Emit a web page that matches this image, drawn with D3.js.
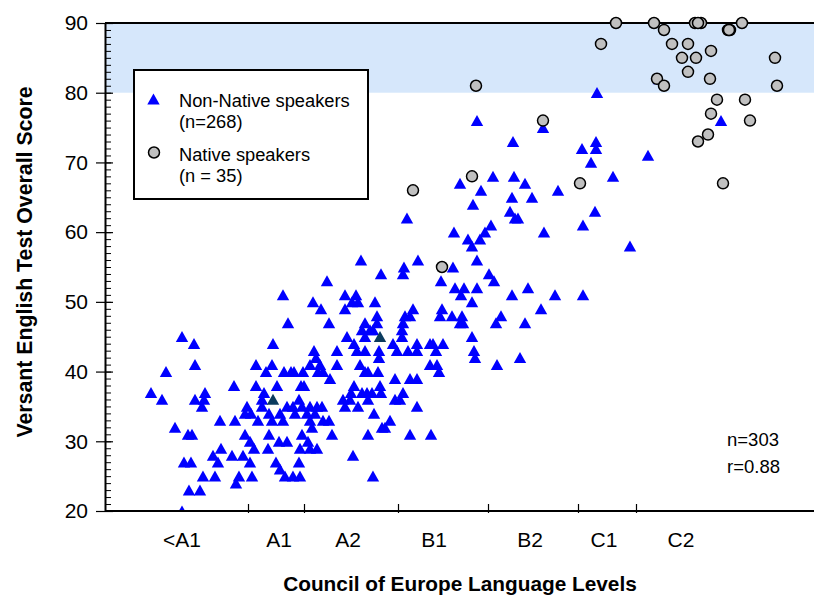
<!DOCTYPE html>
<html><head><meta charset="utf-8">
<script src="https://cdn.jsdelivr.net/npm/d3@7"></script>
<style>body{margin:0;background:#fff}svg{display:block;font-family:Arial,"Liberation Sans",sans-serif}</style>
</head><body><svg id="c" width="814" height="596"></svg>
<script>
// ---- data ----
const levelLabels = ["<A1","A1","A2","B1","B2","C1","C2"];
const levelLabelPos = [7.7,17.4,24.3,32.9,42.5,49.9,57.6];
const levelBoundaries = [14.3,19.9,29.3,38.3,47.3,53.1];
const yTicks = [20,30,40,50,60,70,80,90];
const targetBand = [80,90];

// non-native speakers: [level position, score]
const nonNativeLow = [[7.7,45],[8.9,44],[9.0,41],[6.1,40],[4.6,37],[5.7,36],[10.0,37],[9.0,36],[9.9,36],[9.7,35],[12.9,38],[15.1,41],[16.1,40],[15.1,38],[15.9,37],[15.7,36],[15.7,35],[14.2,35],[14.0,34],[14.6,34],[15.3,33],[11.5,33],[13.0,33],[7.0,32],[8.3,31],[8.7,31],[14.0,31],[14.5,30],[14.9,29],[11.6,29],[10.8,28],[12.7,28],[13.8,28],[11.3,27],[7.9,27],[8.6,27],[14.5,27],[9.8,25],[11.0,25],[13.4,25],[14.7,25],[13.1,24],[8.4,23],[9.5,23],[7.7,20]];
const nonNativeA1 = [[22.2,53],[17.8,51],[20.8,50],[21.6,49],[24.0,51],[24.0,49],[18.3,47],[22.4,47],[24.2,45],[16.8,44],[20.9,43],[23.2,43],[16.7,41],[17.9,40],[18.6,40],[18.9,40],[19.8,40],[20.5,41],[21.5,41],[21.3,40],[21.8,40],[23.2,41],[22.5,39],[17.2,38],[19.6,38],[19.9,38],[19.4,36],[23.8,36],[24.5,36],[18.2,35],[18.8,35],[19.7,35],[20.5,35],[21.2,35],[21.7,35],[24.0,35],[16.4,34],[17.5,34],[19.0,34],[20.2,34],[21.0,34],[16.7,33],[17.8,33],[20.5,33],[21.8,33],[22.4,33],[20.7,32],[16.4,31],[19.7,31],[22.7,31],[17.4,30],[18.2,30],[20.3,30],[16.3,29],[19.5,29],[20.5,29],[21.2,29],[17.1,27],[19.4,27],[17.5,26],[18.0,25],[18.8,25],[19.5,25]];
const nonNativeA2 = [[25.6,56],[27.6,54],[25.1,51],[24.7,50],[25.3,50],[27.0,50],[27.2,48],[27.2,47],[26.0,47],[25.7,46],[26.5,46],[26.8,46],[26.0,45],[24.9,44],[25.2,43],[26.0,43],[27.4,43],[27.4,42],[21.1,42],[25.5,41],[26.0,40],[26.3,40],[27.3,40],[24.9,38],[27.5,38],[24.6,37],[25.7,37],[26.2,37],[26.7,37],[26.3,36],[25.3,35],[26.9,34],[26.3,31],[27.7,32],[24.8,28],[26.8,25],[27.6,37]];
const nonNativeB1 = [[31.3,56],[29.9,55],[29.8,54],[34.8,55],[37.2,56],[33.6,53],[35.0,52],[35.9,52],[35.6,51],[37.2,52],[36.7,50],[30.8,49],[30.5,48],[30.0,48],[29.8,47],[33.7,49],[33.5,48],[34.7,48],[35.7,48],[35.8,47],[35.5,47],[29.7,46],[29.7,45],[36.7,45],[28.8,44],[29.2,43],[30.3,43],[31.2,44],[31.2,43],[32.5,44],[32.8,44],[33.8,44],[33.1,43],[36.9,43],[37.0,42],[32.5,41],[33.2,41],[33.4,40],[29.0,39],[30.5,39],[31.2,39],[29.8,37],[29.5,36],[29.0,36],[31.2,35],[28.5,33],[28.0,32],[30.5,31],[32.6,31]];
const nonNativeHigh = [[49.2,80],[37.2,76],[43.8,75],[40.8,73],[47.7,72],[49.1,73],[49.1,72],[48.6,70],[50.8,68],[35.5,67],[38.8,68],[40.9,68],[42.0,67],[37.6,66],[45.3,66],[40.7,65],[42.7,65],[36.8,64],[40.5,63],[41.0,62],[41.3,62],[49.0,63],[47.8,61],[38.6,61],[38.0,60],[34.9,60],[43.9,60],[36.3,59],[37.5,59],[36.7,58],[38.4,54],[38.9,53],[30.2,62],[40.7,51],[42.3,52],[45.0,51],[47.8,51],[43.6,49],[39.6,48],[39.1,47],[42.0,47],[39.2,41],[41.5,42],[54.3,71],[52.5,58],[61.6,76],[55.4,82]];
const nonNativeDark = [[16.8,36],[27.5,45]];
// native speakers
const nativePoints = [[51.1,90],[54.9,90],[59.0,90],[59.6,90],[63.7,90],[55.9,89],[62.3,89],[62.5,89],[49.6,87],[56.7,87],[58.3,87],[60.6,86],[57.7,85],[59.1,85],[67.0,85],[58.3,83],[55.2,82],[60.5,82],[55.9,81],[67.2,81],[37.1,81],[61.2,79],[64.0,79],[60.6,77],[64.5,76],[43.8,76],[60.3,74],[59.3,73],[36.7,68],[47.5,67],[61.8,67],[30.8,66],[33.7,55],[59.3,90],[62.4,89]];
const legendItems = [["Non-Native speakers","(n=268)"],["Native speakers","(n = 35)"]];
const statsText = ["n=303","r=0.88"];

// ---- chart ----
const svg = d3.select("#c");
const W = 814;
const x = d3.scaleLinear().domain([0,70.9]).range([105,814]);
const y = d3.scaleLinear().domain([20,90]).range([511,23]);

// band
svg.append("rect").attr("x", x(0)).attr("y", y(targetBand[1]))
  .attr("width", W - x(0)).attr("height", y(targetBand[0]) - y(targetBand[1]))
  .attr("fill", "#d6e7fb");

// clip for triangles
svg.append("defs").append("clipPath").attr("id","pc").append("rect")
  .attr("x", x(0)).attr("y", 0).attr("width", W - x(0)).attr("height", y(20));

const triType = {draw(ctx){ ctx.moveTo(0,-5.6); ctx.lineTo(6.2,5.4); ctx.lineTo(-6.2,5.4); ctx.closePath(); }};
const tri = d3.symbol(triType)();
const nonNative = [].concat(nonNativeLow, nonNativeA1, nonNativeA2, nonNativeB1, nonNativeHigh);

const gT = svg.append("g").attr("clip-path","url(#pc)");
gT.selectAll("path.t").data(nonNative).join("path").attr("class","t")
  .attr("d", tri).attr("fill", "#0000ff")
  .attr("transform", d => `translate(${x(d[0])},${y(d[1])})`);
gT.selectAll("path.k").data(nonNativeDark).join("path").attr("class","k")
  .attr("d", tri).attr("fill", "#0b3b5e")
  .attr("transform", d => `translate(${x(d[0])},${y(d[1])})`);

// top line
svg.append("line").attr("x1", x(0)).attr("x2", W).attr("y1", y(90)).attr("y2", y(90))
  .attr("stroke", "#000").attr("stroke-width", 2);

// y axis: outer majors
const yAxO = svg.append("g").attr("transform", `translate(${x(0)},0)`)
  .call(d3.axisLeft(y).tickValues(yTicks).tickSize(9).tickSizeOuter(0).tickPadding(8));
yAxO.select(".domain").attr("stroke-width", 2);
yAxO.selectAll(".tick line").attr("stroke-width", 1.2);
yAxO.selectAll(".tick text").attr("font-size", 21).attr("font-family", "Arial, 'Liberation Sans', sans-serif").attr("fill","#000");
// inner majors
svg.append("g").attr("transform", `translate(${x(0)},0)`)
  .call(d3.axisRight(y).tickValues(yTicks).tickSize(8).tickSizeOuter(0).tickFormat(""))
  .call(g => g.select(".domain").remove())
  .selectAll(".tick line").attr("stroke-width", 1.2);
// minor
svg.append("g").attr("transform", `translate(${x(0)},0)`)
  .call(d3.axisRight(y).tickValues(d3.range(20, 91, 1)).tickSize(6).tickSizeOuter(0).tickFormat(""))
  .call(g => g.select(".domain").remove())
  .selectAll(".tick line").attr("stroke-width", 1);

// x axis
const xAx = svg.append("g").attr("transform", `translate(0,${y(20)})`)
  .call(d3.axisBottom(x).tickValues(levelBoundaries).tickSize(-7).tickSizeOuter(0).tickFormat(""));
xAx.select(".domain").attr("stroke-width", 2).attr("d", `M${x(0)},0H${W}`);
xAx.selectAll(".tick line").attr("stroke-width", 1.2).attr("y2", -7).attr("y1", 2);

svg.append("g").selectAll("text").data(levelLabels).join("text")
  .attr("x", (d,i) => x(levelLabelPos[i])).attr("y", 547)
  .attr("text-anchor", "middle").attr("font-size", 21).text(d => d);

// axis titles
svg.append("text").attr("x", 460).attr("y", 591).attr("text-anchor","middle")
  .attr("font-size", 20.8).attr("font-weight","bold").text("Council of Europe Language Levels");
svg.append("text").attr("transform","translate(32,262) rotate(-90)").attr("text-anchor","middle")
  .attr("font-size", 21.3).attr("font-weight","bold").text("Versant English Test Overall Score");

// native circles
svg.append("g").selectAll("circle").data(nativePoints).join("circle")
  .attr("cx", d => x(d[0])).attr("cy", d => y(d[1])).attr("r", 5.5)
  .attr("fill", "#c0c0c0").attr("stroke", "#000").attr("stroke-width", 1.5);

// legend
const lg = svg.append("g");
lg.append("rect").attr("x",134).attr("y",70).attr("width",234).attr("height",129)
  .attr("fill","#fff").attr("stroke","#000").attr("stroke-width",2);
lg.append("path").attr("d", tri).attr("fill","#0000ff").attr("transform","translate(153.5,99)");
lg.append("circle").attr("cx",154).attr("cy",152.5).attr("r",5.5)
  .attr("fill","#c0c0c0").attr("stroke","#000").attr("stroke-width",1.5);
legendItems.forEach((it, i) => {
  const by = i === 0 ? 107 : 161;
  lg.append("text").attr("x",179).attr("y",by).attr("font-size",18.3).text(it[0]);
  lg.append("text").attr("x",179).attr("y",by+20.5).attr("font-size",18.3).text(it[1]);
});

// stats
statsText.forEach((t,i) => {
  svg.append("text").attr("x",727).attr("y", 446 + i*27).attr("font-size",18.5).text(t);
});
</script></body></html>
